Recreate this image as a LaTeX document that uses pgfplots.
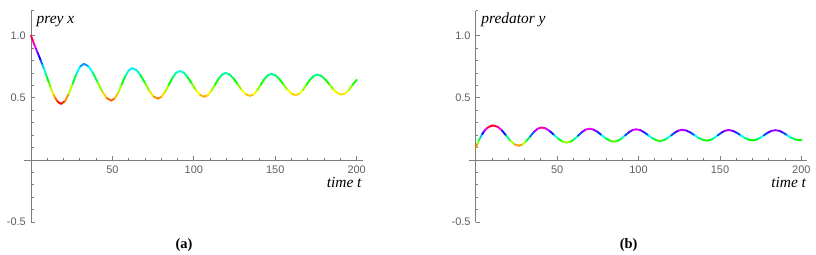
\documentclass[border=0pt]{standalone}
\usepackage{fontspec}
\setmainfont{Liberation Serif}
\newfontfamily\ticksf{Liberation Sans}
\usepackage{pgfplots}
\usepackage{pgfplotstable}
\pgfplotsset{compat=1.18}
\definecolor{axisgray}{RGB}{125,125,125}
\definecolor{tickgray}{RGB}{95,95,95}

\pgfplotstableread{
t v
0 1.000
1 0.965
2 0.930
3 0.897
4 0.865
5 0.833
6 0.800
7 0.767
8 0.733
9 0.697
10 0.660
11 0.622
12 0.585
13 0.551
14 0.521
15 0.497
16 0.477
17 0.463
18 0.455
18.6 0.452
20.9 0.474
23.2 0.533
25.6 0.613
27.9 0.694
30.2 0.752
32.5 0.774
35.3 0.754
38.1 0.700
40.9 0.626
43.7 0.552
46.5 0.498
49.3 0.478
51.45 0.496
53.6 0.543
55.75 0.609
57.9 0.674
60.05 0.722
62.2 0.739
64.83 0.723
67.47 0.678
70.1 0.617
72.73 0.555
75.37 0.510
78 0.494
80.22 0.509
82.43 0.550
84.65 0.605
86.87 0.661
89.08 0.701
91.3 0.716
93.82 0.702
96.33 0.664
98.85 0.613
101.37 0.561
103.88 0.523
106.4 0.509
108.58 0.522
110.77 0.557
112.95 0.605
115.13 0.652
117.32 0.687
119.5 0.700
122 0.688
124.5 0.654
127 0.608
129.5 0.562
132 0.528
134.5 0.516
136.68 0.528
138.87 0.560
141.05 0.605
143.23 0.649
145.42 0.681
147.6 0.693
150.08 0.682
152.57 0.650
155.05 0.608
157.53 0.565
160.02 0.534
162.5 0.522
164.72 0.533
166.93 0.563
169.15 0.605
171.37 0.646
173.58 0.676
175.8 0.687
178.3 0.676
180.8 0.647
183.3 0.607
185.8 0.566
188.3 0.537
190.8 0.526
193.02 0.537
195.23 0.565
197.45 0.604
200 0.645
}\preytable

\pgfplotstableread{
t v
0 0.102
1 0.130
2 0.158
3 0.185
4 0.208
5 0.228
6 0.244
7 0.257
8 0.266
9 0.272
10 0.276
11.1 0.277
13.65 0.266
16.2 0.2365
18.75 0.196
21.3 0.1555
23.85 0.126
26.4 0.115
28.73 0.125
31.07 0.152
33.4 0.1885
35.73 0.225
38.07 0.252
40.4 0.262
43 0.254
45.6 0.2315
48.2 0.201
50.8 0.1705
53.4 0.148
56 0.140
58.3 0.1475
60.6 0.168
62.9 0.196
65.2 0.224
67.5 0.2445
69.8 0.252
72.33 0.245
74.87 0.226
77.4 0.200
79.93 0.174
82.47 0.155
85 0.148
87.25 0.1546
89.5 0.1728
91.75 0.1975
94 0.2223
96.25 0.2404
98.5 0.247
100.97 0.2407
103.43 0.2235
105.9 0.200
108.37 0.1765
110.83 0.1593
113.3 0.153
115.55 0.159
117.8 0.1755
120.05 0.198
122.3 0.2205
124.55 0.237
126.8 0.243
129.33 0.2372
131.87 0.2213
134.4 0.1995
136.93 0.1778
139.47 0.1618
142 0.156
144.22 0.1617
146.43 0.1773
148.65 0.1985
150.87 0.2198
153.08 0.2353
155.3 0.241
157.75 0.2354
160.2 0.2203
162.65 0.1995
165.1 0.1788
167.55 0.1636
170 0.158
172.33 0.1635
174.67 0.1785
177 0.199
179.33 0.2195
181.67 0.2345
184 0.240
186.42 0.2346
188.83 0.220
191.25 0.200
193.67 0.180
196.08 0.1654
198.5 0.160
200 0.1605
}\predtable

\pgfplotsset{
  mmastyle/.style={
    scale only axis,
    width=338.7bp, height=211.3bp,
    xmin=-4.3, xmax=203.7, ymin=-0.5, ymax=1.2,
    enlargelimits=false,
    axis lines=middle,
    every inner x axis line/.style={-},
    every inner y axis line/.style={-},
    axis line style={-, draw=axisgray, line width=0.9bp},
    xtick={50,100,150,200},
    xticklabels={50,100,150,200},
    ytick={-0.5,0.5,1.0},
    yticklabels={-0.5,0.5,1.0},
    minor xtick={10,20,30,40,60,70,80,90,110,120,130,140,160,170,180,190},
    minor ytick={-0.4,-0.3,-0.2,-0.1,0.1,0.2,0.3,0.4,0.6,0.7,0.8,0.9,1.2},
    tick align=inside,
    major tick length=4bp, minor tick length=2.5bp,
    tick style={draw=axisgray, line width=0.8bp},
    tick label style={font=\ticksf\fontsize{11}{12}\selectfont, text=tickgray},
    xticklabel style={inner sep=0pt, anchor=north, yshift=-5.5bp},
    yticklabel style={inner sep=0pt, anchor=east, xshift=-5bp},
    clip=false,
    colormap={hue}{rgb255(0cm)=(255,0,0) rgb255(1cm)=(255,255,0) rgb255(2cm)=(0,255,0) rgb255(3cm)=(0,255,255) rgb255(4cm)=(0,0,255) rgb255(5cm)=(255,0,255) rgb255(6cm)=(255,0,0)},
  }
}

\begin{document}
\begin{tikzpicture}[x=1bp,y=1bp]
\useasboundingbox (0bp,0bp) rectangle (816bp,255bp);

\begin{axis}[mmastyle, at={(24bp,32.85bp)}, anchor=south west]
\addplot[mesh, line width=1.9bp, line cap=round, point meta=\thisrow{v}] table[x=t, y=v] {\preytable};
\end{axis}

\begin{axis}[mmastyle, at={(468.7bp,32.85bp)}, anchor=south west]
\addplot[mesh, line width=1.9bp, line cap=round, point meta=\thisrow{v}] table[x=t, y=v] {\predtable};
\end{axis}

\node[anchor=base west, inner sep=0pt, font=\itshape\fontsize{15.5}{17}\selectfont] at (36.5bp,231bp) {prey x};
\node[anchor=base east, inner sep=0pt, font=\itshape\fontsize{15.5}{17}\selectfont] at (361.7bp,67.7bp) {time t};
\node[anchor=base west, inner sep=0pt, font=\itshape\fontsize{15.5}{17}\selectfont] at (481.2bp,231bp) {predator y};
\node[anchor=base east, inner sep=0pt, font=\itshape\fontsize{15.5}{17}\selectfont] at (806.2bp,67.7bp) {time t};
\node[anchor=base, inner sep=0pt, font=\bfseries\fontsize{14.5}{16}\selectfont] at (184bp,7bp) {(a)};
\node[anchor=base, inner sep=0pt, font=\bfseries\fontsize{14.5}{16}\selectfont] at (628.7bp,7bp) {(b)};
\end{tikzpicture}
\end{document}
